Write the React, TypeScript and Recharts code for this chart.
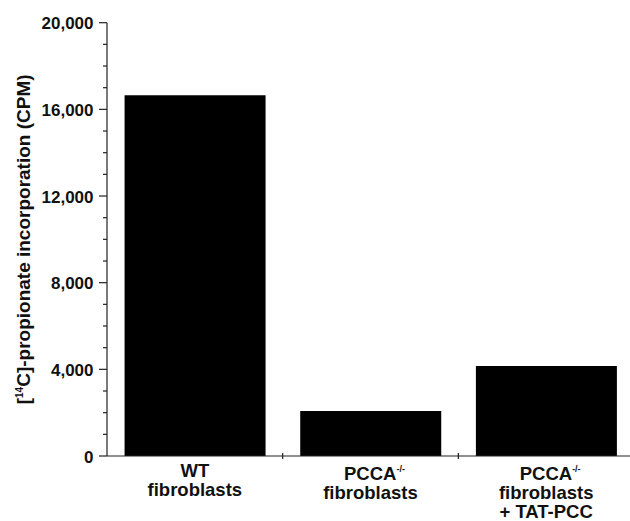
import React from 'react';
import { BarChart, Bar, XAxis, YAxis, Label } from 'recharts';

const categories = ['WT', 'PCCA-/-', 'PCCA-/- + TAT-PCC'];
const labelMain = ['WT', 'PCCA', 'PCCA'];
const labelSup = ['', '-/-', '-/-'];
const labelRest = [['fibroblasts'], ['fibroblasts'], ['fibroblasts', '+ TAT-PCC']];
const values = [16650, 2080, 4150];
const yTicks = [0, 1000, 2000, 3000, 4000, 5000, 6000, 7000, 8000, 9000, 10000, 11000, 12000, 13000, 14000, 15000, 16000, 17000, 18000, 19000, 20000];
const yMajorTicks = [0, 4000, 8000, 12000, 16000, 20000];
const yTickLabels = ['0', '4,000', '8,000', '12,000', '16,000', '20,000'];

const data = categories.map((c, i) => ({ name: c, value: values[i], idx: i }));

const FONT = '"Liberation Sans", Arial, Helvetica, sans-serif';
const INK = '#111';
const AXIS = '#222';

const XTick = (props: any) => {
  const { x, y, payload } = props;
  const i = categories.indexOf(payload.value);
  const off = payload.offset ?? 88;
  const base = i === 0 ? 21 : 24;
  return (
    <g>
      {i < categories.length - 1 && (
        <line x1={x + off} x2={x + off} y1={y - 3} y2={y + 3} stroke={AXIS} strokeWidth={1.2} />
      )}
      <text x={labelSup[i] ? x + 4 : x} y={y + base} textAnchor="middle" fontFamily={FONT} fontWeight="bold" fontSize={18.5} fill={INK}>
        {labelMain[i]}
        {labelSup[i] && (
          <tspan dy={-8} fontSize={9}>{labelSup[i]}</tspan>
        )}
      </text>
      {labelRest[i].map((line, k) => (
        <text key={k} x={x} y={y + base + 19 * (k + 1)} textAnchor="middle" fontFamily={FONT} fontWeight="bold" fontSize={18.5} fill={INK}>
          {line}
        </text>
      ))}
    </g>
  );
};

const YTick = (props: any) => {
  const { x, y, payload } = props;
  const v = payload.value;
  const mi = yMajorTicks.indexOf(v);
  const major = mi >= 0;
  return (
    <g>
      <line x1={x} x2={x - (major ? 8 : 4)} y1={y} y2={y} stroke={AXIS} strokeWidth={1.2} />
      {major && (
        <text x={x - 13.5} y={y + 6.5} textAnchor="end" fontFamily={FONT} fontWeight="bold" fontSize={17} fill={INK}>
          {yTickLabels[mi]}
        </text>
      )}
    </g>
  );
};

const YLabel = (props: any) => {
  const vb = props.viewBox || { x: 0, y: 22.7, width: 107, height: 433.3 };
  const cx = vb.x + 30.5;
  const cy = vb.y + vb.height / 2;
  return (
    <text x={cx} y={cy} transform={`rotate(-90, ${cx}, ${cy})`} textAnchor="middle" fontFamily={FONT} fontWeight="bold" fontSize={19} fill={INK}>
      [<tspan dy={-7} fontSize={10}>14</tspan>
      <tspan dy={7}>C]-propionate incorporation (CPM)</tspan>
    </text>
  );
};

export default function App() {
  return (
    <div style={{ position: 'absolute', left: 0, top: 0, width: 630, height: 521, overflow: 'hidden', background: '#fff' }}>
      <BarChart
        width={640}
        height={521}
        data={data}
        margin={{ top: 22.7, right: 6, bottom: 0, left: 0 }}
        barCategoryGap="10%"
      >
        <XAxis
          dataKey="name"
          height={65}
          tickSize={0}
          tickMargin={0}
          tickLine={false}
          axisLine={{ stroke: AXIS, strokeWidth: 1.2 }}
          tick={<XTick />}
          interval={0}
        />
        <YAxis
          width={107}
          domain={[0, 20000]}
          ticks={yTicks}
          interval={0}
          tickSize={0}
          tickMargin={0}
          tickLine={false}
          axisLine={{ stroke: AXIS, strokeWidth: 1.2 }}
          tick={<YTick />}
        >
          <Label content={<YLabel />} />
        </YAxis>
        <Bar dataKey="value" fill="#000" isAnimationActive={false} />
      </BarChart>
    </div>
  );
}
